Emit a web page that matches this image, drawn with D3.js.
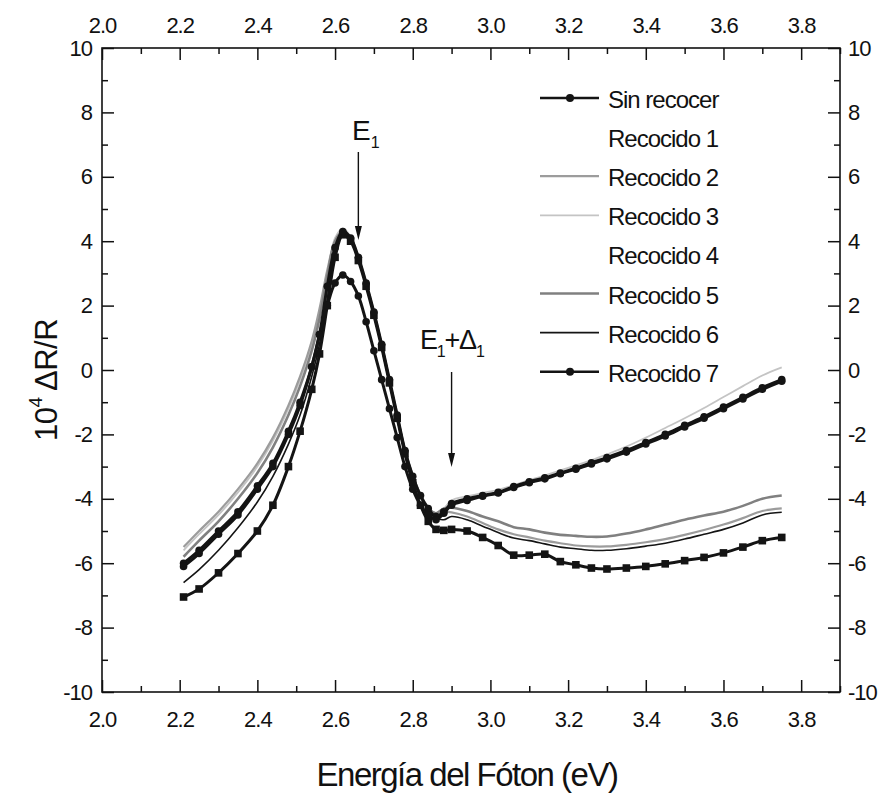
<!DOCTYPE html>
<html>
<head>
<meta charset="utf-8">
<script src="https://cdn.jsdelivr.net/npm/d3@7"></script>
<style>
  body { margin: 0; background: #fff; }
  svg { font-family: "Liberation Sans", Arial, sans-serif; }
</style>
</head>
<body>
<svg id="chart" width="885" height="796"></svg>
<script>
// photon energy (eV), shared by all spectra
const energy = [2.21, 2.25, 2.30, 2.35, 2.40, 2.44, 2.48, 2.51, 2.54, 2.56,
  2.58, 2.60, 2.62, 2.64, 2.66, 2.68, 2.70, 2.72, 2.74, 2.76,
  2.78, 2.80, 2.82, 2.84, 2.86, 2.88, 2.90, 2.94, 2.98, 3.02,
  3.06, 3.10, 3.14, 3.18, 3.22, 3.26, 3.30, 3.35, 3.40, 3.45,
  3.50, 3.55, 3.60, 3.65, 3.70, 3.75];

// 10^4 dR/R for every sample
const sinRecocer = [-6.0, -5.6, -5.0, -4.4, -3.6, -2.9, -1.9, -1.0, 0.1, 1.1,
  2.6, 3.8, 4.3, 4.1, 3.5, 2.7, 1.8, 0.8, -0.3, -1.4,
  -2.5, -3.3, -3.9, -4.3, -4.55, -4.4, -4.15, -4.0, -3.9, -3.8,
  -3.62, -3.47, -3.35, -3.2, -3.05, -2.88, -2.72, -2.5, -2.25, -2.0,
  -1.72, -1.45, -1.15, -0.85, -0.55, -0.3];
const recocido1 = [-5.7, -5.2, -4.6, -3.9, -3.1, -2.3, -1.3, -0.4, 0.7, 1.7,
  3.0, 4.1, 4.35, 4.1, 3.5, 2.7, 1.8, 0.8, -0.3, -1.4,
  -2.5, -3.3, -3.9, -4.3, -4.5, -4.35, -4.1, -3.95, -3.85, -3.75,
  -3.6, -3.45, -3.32, -3.18, -3.02, -2.86, -2.7, -2.47, -2.22, -1.96,
  -1.68, -1.4, -1.1, -0.8, -0.5, -0.25];
const recocido2 = [-5.5, -5.0, -4.4, -3.7, -2.9, -2.1, -1.1, -0.2, 0.9, 1.9,
  3.1, 4.0, 4.3, 4.05, 3.45, 2.65, 1.75, 0.75, -0.35, -1.45,
  -2.5, -3.3, -3.9, -4.3, -4.45, -4.4, -4.42, -4.55, -4.75, -4.95,
  -5.1, -5.2, -5.3, -5.38, -5.45, -5.48, -5.48, -5.43, -5.35, -5.25,
  -5.12, -4.97, -4.8, -4.6, -4.38, -4.3];
const recocido3 = [-5.6, -5.1, -4.5, -3.8, -3.0, -2.2, -1.2, -0.3, 0.8, 1.8,
  3.0, 4.1, 4.4, 4.15, 3.55, 2.75, 1.85, 0.85, -0.25, -1.35,
  -2.45, -3.25, -3.85, -4.25, -4.45, -4.3, -4.05, -3.92, -3.82, -3.72,
  -3.58, -3.42, -3.28, -3.12, -2.96, -2.8, -2.62, -2.38, -2.1, -1.8,
  -1.5, -1.18, -0.84, -0.5, -0.17, 0.08];
const recocido4 = [-7.05, -6.8, -6.3, -5.7, -5.0, -4.2, -3.0, -1.9, -0.6, 0.5,
  2.0, 3.5, 4.2, 4.0, 3.4, 2.6, 1.7, 0.7, -0.4, -1.5,
  -2.6, -3.5, -4.2, -4.7, -4.95, -4.98, -4.95, -5.0, -5.2, -5.45,
  -5.75, -5.75, -5.72, -5.95, -6.05, -6.15, -6.18, -6.15, -6.1, -6.02,
  -5.92, -5.82, -5.68, -5.5, -5.3, -5.2];
const recocido5 = [-5.8, -5.3, -4.7, -4.0, -3.2, -2.4, -1.4, -0.5, 0.6, 1.6,
  2.9, 4.0, 4.3, 4.05, 3.45, 2.65, 1.75, 0.75, -0.35, -1.45,
  -2.5, -3.3, -3.9, -4.3, -4.45, -4.3, -4.28, -4.38, -4.55, -4.7,
  -4.88, -4.95, -5.05, -5.12, -5.15, -5.18, -5.17, -5.08, -4.95, -4.8,
  -4.65, -4.52, -4.4, -4.22, -4.0, -3.9];
const recocido6 = [-6.6, -6.2, -5.6, -4.9, -4.1, -3.3, -2.3, -1.4, -0.2, 0.8,
  2.2, 3.7, 4.35, 4.1, 3.5, 2.7, 1.8, 0.8, -0.3, -1.4,
  -2.5, -3.35, -3.95, -4.35, -4.6, -4.65, -4.55, -4.65, -4.85, -5.05,
  -5.22, -5.3, -5.4, -5.5, -5.55, -5.6, -5.6, -5.55, -5.47, -5.38,
  -5.25, -5.1, -4.95, -4.75, -4.5, -4.42];
const recocido7 = [-6.1, -5.7, -5.1, -4.5, -3.7, -3.0, -2.0, -1.1, 0.1, 1.1,
  2.0, 2.7, 2.95, 2.75, 2.3, 1.5, 0.6, -0.3, -1.2, -2.1,
  -3.0, -3.7, -4.2, -4.5, -4.65, -4.45, -4.2, -4.05, -3.92, -3.82,
  -3.65, -3.5, -3.38, -3.22, -3.08, -2.92, -2.76, -2.55, -2.3, -2.05,
  -1.77, -1.5, -1.2, -0.9, -0.6, -0.35];

const seriesNames = ["Sin recocer", "Recocido 1", "Recocido 2", "Recocido 3",
  "Recocido 4", "Recocido 5", "Recocido 6", "Recocido 7"];
const seriesValues = [sinRecocer, recocido1, recocido2, recocido3,
  recocido4, recocido5, recocido6, recocido7];

const xMajorTicks = [2.0, 2.2, 2.4, 2.6, 2.8, 3.0, 3.2, 3.4, 3.6, 3.8];
const xMinorTicks = [2.1, 2.3, 2.5, 2.7, 2.9, 3.1, 3.3, 3.5, 3.7, 3.9];
const yMajorTicks = [-10, -8, -6, -4, -2, 0, 2, 4, 6, 8, 10];
const yMinorTicks = [-9, -7, -5, -3, -1, 1, 3, 5, 7, 9];

// look of each series (marker: none / dot / square)
const styles = {
  "Sin recocer": {color: "#141414", width: 3, marker: "dot", legend: true},
  "Recocido 1": {color: "#ffffff", width: 1.2, marker: "none", legend: false},
  "Recocido 2": {color: "#9c9c9c", width: 2.2, marker: "none", legend: true},
  "Recocido 3": {color: "#c4c4c4", width: 1.8, marker: "none", legend: true},
  "Recocido 4": {color: "#141414", width: 3, marker: "square", legend: false},
  "Recocido 5": {color: "#808080", width: 2.6, marker: "none", legend: true},
  "Recocido 6": {color: "#141414", width: 1.6, marker: "none", legend: true},
  "Recocido 7": {color: "#141414", width: 3, marker: "dot", legend: true}
};
const drawOrder = ["Recocido 1", "Recocido 3", "Recocido 2", "Recocido 5",
  "Recocido 6", "Recocido 4", "Sin recocer", "Recocido 7"];

const margin = {left: 102, top: 48, right: 45, bottom: 104};
const W = 885, H = 796;
const w = W - margin.left - margin.right;
const h = H - margin.top - margin.bottom;

const svg = d3.select("#chart");
const g = svg.append("g").attr("transform", `translate(${margin.left},${margin.top})`);

const x = d3.scaleLinear().domain([2.0, 3.9]).range([0, w]);
const y = d3.scaleLinear().domain([-10, 10]).range([h, 0]);

function styleAxis(sel) {
  sel.select(".domain").remove();
  sel.selectAll("line").attr("stroke", "#111").attr("stroke-width", 1.5);
  sel.selectAll("text").attr("font-size", 22).attr("letter-spacing", -1)
    .attr("fill", "#111").attr("font-family", "Liberation Sans, Arial, sans-serif");
}
const fx = d3.format(".1f");
const fy = d => String(d);

// major + minor ticks on all four sides, pointing inwards
g.append("g").attr("transform", `translate(0,${h})`)
  .call(d3.axisBottom(x).tickValues(xMajorTicks).tickSizeInner(-12).tickSizeOuter(0).tickPadding(19).tickFormat(fx))
  .call(styleAxis);
g.append("g").attr("transform", `translate(0,${h})`)
  .call(d3.axisBottom(x).tickValues(xMinorTicks).tickSizeInner(-6).tickSizeOuter(0).tickFormat(""))
  .call(styleAxis);
g.append("g")
  .call(d3.axisTop(x).tickValues(xMajorTicks).tickSizeInner(-12).tickSizeOuter(0).tickPadding(15).tickFormat(fx))
  .call(styleAxis);
g.append("g")
  .call(d3.axisTop(x).tickValues(xMinorTicks).tickSizeInner(-6).tickSizeOuter(0).tickFormat(""))
  .call(styleAxis);
g.append("g")
  .call(d3.axisLeft(y).tickValues(yMajorTicks).tickSizeInner(-12).tickSizeOuter(0).tickPadding(10).tickFormat(fy))
  .call(styleAxis);
g.append("g")
  .call(d3.axisLeft(y).tickValues(yMinorTicks).tickSizeInner(-6).tickSizeOuter(0).tickFormat(""))
  .call(styleAxis);
g.append("g").attr("transform", `translate(${w},0)`)
  .call(d3.axisRight(y).tickValues(yMajorTicks).tickSizeInner(-12).tickSizeOuter(0).tickPadding(8).tickFormat(fy))
  .call(styleAxis);
g.append("g").attr("transform", `translate(${w},0)`)
  .call(d3.axisRight(y).tickValues(yMinorTicks).tickSizeInner(-6).tickSizeOuter(0).tickFormat(""))
  .call(styleAxis);

g.append("rect").attr("width", w).attr("height", h)
  .attr("fill", "none").attr("stroke", "#111").attr("stroke-width", 1.6);

// spectra
const line = d3.line()
  .x(d => x(d[0]))
  .y(d => y(d[1]))
  .curve(d3.curveCatmullRom);

const plot = g.append("g");
drawOrder.forEach(name => {
  const i = seriesNames.indexOf(name);
  const st = styles[name];
  const pts = energy.map((e, k) => [e, seriesValues[i][k]]);
  plot.append("path").datum(pts)
    .attr("d", line)
    .attr("fill", "none")
    .attr("stroke", st.color)
    .attr("stroke-width", st.width)
    .attr("stroke-linejoin", "round");
  if (st.marker === "dot") {
    plot.append("g").selectAll("circle").data(pts).enter().append("circle")
      .attr("cx", d => x(d[0])).attr("cy", d => y(d[1]))
      .attr("r", 3.8).attr("fill", st.color);
  } else if (st.marker === "square") {
    plot.append("g").selectAll("rect").data(pts).enter().append("rect")
      .attr("x", d => x(d[0]) - 3.8).attr("y", d => y(d[1]) - 3.8)
      .attr("width", 7.6).attr("height", 7.6).attr("fill", st.color);
  }
});

// legend
const legend = g.append("g").attr("transform", `translate(${540 - margin.left},${108 - margin.top})`);
seriesNames.forEach((name, i) => {
  const st = styles[name];
  const row = legend.append("g").attr("transform", `translate(0,${i * 39.1})`);
  if (st.legend) {
    row.append("line").attr("x1", 0).attr("x2", 59).attr("y1", -10).attr("y2", -10)
      .attr("stroke", st.color).attr("stroke-width", Math.min(st.width, 2.6));
    if (st.marker === "dot") {
      row.append("circle").attr("cx", 30).attr("cy", -10).attr("r", 4).attr("fill", st.color);
    }
  }
  row.append("text").attr("x", 68).attr("y", 0)
    .attr("font-size", 24).attr("letter-spacing", -1).attr("fill", "#111")
    .text(name);
});

// annotations
function arrow(x0, yTop, yTip) {
  g.append("line").attr("x1", x0).attr("x2", x0).attr("y1", yTop).attr("y2", yTip - 10)
    .attr("stroke", "#111").attr("stroke-width", 1.4);
  g.append("path")
    .attr("d", `M${x0 - 3.5},${yTip - 14} L${x0 + 3.5},${yTip - 14} L${x0},${yTip} Z`)
    .attr("fill", "#111");
}
const e1 = g.append("text").attr("x", 352 - margin.left).attr("y", 140 - margin.top)
  .attr("font-size", 28).attr("fill", "#111");
e1.append("tspan").text("E");
e1.append("tspan").attr("font-size", 16).attr("dy", 8).text("1");
arrow(x(2.66), 152 - margin.top, 240 - margin.top);

const e2 = g.append("text").attr("x", 420 - margin.left).attr("y", 349 - margin.top)
  .attr("font-size", 27).attr("letter-spacing", -1.2).attr("fill", "#111");
e2.append("tspan").text("E");
e2.append("tspan").attr("font-size", 16).attr("dy", 8).text("1");
e2.append("tspan").attr("dy", -8).text("+Δ");
e2.append("tspan").attr("font-size", 16).attr("dy", 8).text("1");
arrow(x(2.90), 372 - margin.top, 467 - margin.top);

// axis titles
svg.append("text")
  .attr("x", 467).attr("y", 786)
  .attr("text-anchor", "middle")
  .attr("font-size", 33).attr("letter-spacing", -1.5).attr("fill", "#111")
  .text("Energía del Fóton (eV)");

const yt = svg.append("text")
  .attr("transform", "translate(57,380) rotate(-90)")
  .attr("text-anchor", "middle")
  .attr("font-size", 31).attr("letter-spacing", -0.5).attr("fill", "#111");
yt.append("tspan").text("10");
yt.append("tspan").attr("font-size", 19).attr("dy", -15).text("4");
yt.append("tspan").attr("dy", 15).text(" ΔR/R");
</script>
</body>
</html>
